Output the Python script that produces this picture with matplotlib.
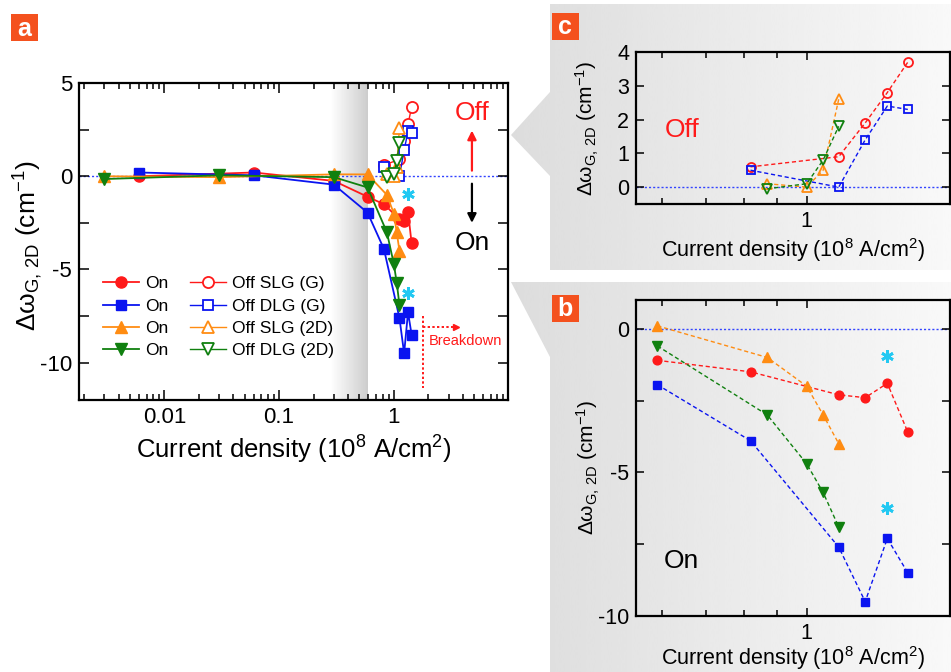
import numpy as np
import matplotlib
matplotlib.use('Agg')
import matplotlib.pyplot as plt
from matplotlib.patches import Polygon, Rectangle
from matplotlib.ticker import FixedLocator, LogLocator, NullFormatter, FuncFormatter

plt.rcParams['font.family'] = ['Liberation Sans', 'DejaVu Sans']
plt.rcParams['mathtext.fontset'] = 'custom'
plt.rcParams['mathtext.rm'] = 'Liberation Sans'
plt.rcParams['mathtext.it'] = 'Liberation Sans:italic'
plt.rcParams['mathtext.bf'] = 'Liberation Sans:bold'
plt.rcParams['axes.unicode_minus'] = False

# ---------------- data ----------------
# "On" (during current flow) Raman shifts, cm^-1
x_on_g = [0.006, 0.06, 0.3, 0.59, 0.82, 1.12, 1.23, 1.33, 1.43]
on_slg_g = [0.0, 0.2, -0.25, -1.1, -1.5, -2.3, -2.4, -1.9, -3.6]
on_dlg_g = [0.2, 0.05, -0.45, -1.95, -3.9, -7.6, -9.5, -7.3, -8.5]
x_on_2d = [0.003, 0.03, 0.3, 0.59, 0.87, 1.0, 1.06, 1.12]
on_slg_2d = [0.0, -0.05, 0.1, 0.1, -1.0, -2.0, -3.0, -4.0]
on_dlg_2d = [-0.15, 0.05, -0.05, -0.6, -3.0, -4.7, -5.7, -6.9]

# "Off" (after current) Raman shifts
x_off_g = [0.82, 1.12, 1.23, 1.33, 1.43]
off_slg_g = [0.6, 0.9, 1.9, 2.8, 3.7]
off_dlg_g = [0.5, 0.0, 1.4, 2.4, 2.3]
x_off_2d = [0.87, 1.0, 1.06, 1.12]
off_slg_2d = [0.1, 0.0, 0.5, 2.6]
off_dlg_2d = [-0.05, 0.1, 0.8, 1.8]

# asterisk marks
star_x = [1.33, 1.33]
star_y = [-0.95, -6.25]

legend_on = ['On', 'On', 'On', 'On']
legend_off = ['Off SLG (G)', 'Off DLG (G)', 'Off SLG (2D)', 'Off DLG (2D)']

# ---------------- style ----------------
RED = '#ff1a1a'
BLUE = '#0a14f0'
ORANGE = '#ff8c12'
GREEN = '#10800f'
CYAN = '#22c8f2'
LABEL_BOX = '#f4511e'

W, H = 951, 672
fig = plt.figure(figsize=(W / 100, H / 100), dpi=100)
fig.patch.set_facecolor('white')


def rect(l, t, r, b):
    return [l / W, 1 - b / H, (r - l) / W, (b - t) / H]


# background panels (pixel coordinates)
bg = fig.add_axes([0, 0, 1, 1], zorder=-10)
bg.set_xlim(0, W)
bg.set_ylim(H, 0)
bg.axis('off')
grad = np.linspace(0.865, 0.975, 256).reshape(1, -1)
for pts in ([(550, 4), (951, 4), (951, 270), (550, 270), (550, 176), (511, 135), (550, 92)],
            [(511, 282), (951, 282), (951, 672), (550, 672), (550, 357)]):
    poly = Polygon(pts, closed=True, facecolor='none', edgecolor='none')
    bg.add_patch(poly)
    im = bg.imshow(grad, cmap='gray', vmin=0, vmax=1, aspect='auto',
                   extent=(511, 951, 672, 0), interpolation='bicubic')
    im.set_clip_path(poly)

# panel label boxes
for (l, t, s) in [(11, 14, 'a'), (552, 13, 'c'), (552, 295, 'b')]:
    bg.add_patch(Rectangle((l, t), 26.5, 27, facecolor=LABEL_BOX, edgecolor='none'))
    bg.text(l + 13.25, t + 14.5, s, color='white', fontsize=18, fontweight='bold',
            ha='center', va='center')

fmt = FuncFormatter(lambda v, p: '%g' % v)


def style_axes(ax, lw=1.5, maj=7, mino=4, fs=16):
    for s in ax.spines.values():
        s.set_linewidth(lw)
    ax.tick_params(which='both', direction='in', top=True, right=True, width=1.1)
    ax.tick_params(which='major', length=maj, labelsize=fs, pad=5)
    ax.tick_params(which='minor', length=mino)


# ---------------- panel a ----------------
axA = fig.add_axes(rect(79, 83, 508, 400))
axA.set_xscale('log')
axA.set_xlim(0.0018, 9.9)
axA.set_ylim(-12, 5)

xs = np.logspace(np.log10(0.28), np.log10(0.6), 61)
for i in range(60):
    lev = 1 - 0.20 * (i + 0.5) / 60
    axA.axvspan(xs[i], xs[i + 1], color=str(lev), lw=0, zorder=0)

axA.axhline(0, color='#3344ff', ls=(0, (1.5, 1.5)), lw=1.0, zorder=1)

h_on = []
h_on.append(axA.plot(x_on_g, on_slg_g, '-', color=RED, marker='o', ms=8, lw=1.3, zorder=3)[0])
h_on.append(axA.plot(x_on_g, on_dlg_g, '-', color=BLUE, marker='s', ms=7.5, lw=1.3, zorder=3)[0])
h_on.append(axA.plot(x_on_2d, on_slg_2d, '-', color=ORANGE, marker='^', ms=9, lw=1.3, zorder=3)[0])
h_on.append(axA.plot(x_on_2d, on_dlg_2d, '-', color=GREEN, marker='v', ms=9, lw=1.3, zorder=3)[0])
h_off = []
h_off.append(axA.plot(x_off_g, off_slg_g, '-', color=RED, marker='o', ms=8, mfc='white', mew=1.3, lw=1.0, zorder=4)[0])
h_off.append(axA.plot(x_off_g, off_dlg_g, '-', color=BLUE, marker='s', ms=7.5, mfc='white', mew=1.3, lw=1.0, zorder=4)[0])
h_off.append(axA.plot(x_off_2d, off_slg_2d, '-', color=ORANGE, marker='^', ms=9, mfc='white', mew=1.3, lw=1.0, zorder=4)[0])
h_off.append(axA.plot(x_off_2d, off_dlg_2d, '-', color=GREEN, marker='v', ms=9, mfc='white', mew=1.3, lw=1.0, zorder=4)[0])

axA.plot(star_x, star_y, ls='none', marker=(6, 2, 0), ms=9, mew=2, color=CYAN, zorder=5)

axA.xaxis.set_major_locator(FixedLocator([0.001, 0.01, 0.1, 1, 10]))
axA.xaxis.set_major_formatter(fmt)
axA.xaxis.set_minor_locator(LogLocator(base=10, subs=np.arange(2, 10), numticks=50))
axA.xaxis.set_minor_formatter(NullFormatter())
axA.yaxis.set_major_locator(FixedLocator([-10, -5, 0, 5]))
axA.yaxis.set_minor_locator(FixedLocator([-7.5, -2.5, 2.5]))
axA.yaxis.set_major_formatter(fmt)
style_axes(axA, lw=1.6, maj=7, mino=4, fs=16)
axA.tick_params(which='minor', length=7, axis='y')

# Off / On annotations
axA.text(4.8, 3.4, 'Off', color=RED, fontsize=19, ha='center', va='center')
axA.text(4.8, -3.6, 'On', color='black', fontsize=19, ha='center', va='center')
axA.annotate('', xy=(4.8, 2.45), xytext=(4.8, 0.3),
             arrowprops=dict(arrowstyle='-|>', color=RED, lw=1.6, mutation_scale=13, shrinkA=0, shrinkB=0))
axA.annotate('', xy=(4.8, -2.5), xytext=(4.8, -0.4),
             arrowprops=dict(arrowstyle='-|>', color='black', lw=1.6, mutation_scale=13, shrinkA=0, shrinkB=0))

# breakdown marker
axA.plot([1.78, 1.78], [-7.5, -11.35], color=RED, ls=(0, (1.2, 1.2)), lw=1.4, zorder=2)
axA.plot([1.8, 3.45], [-8.07, -8.07], color=RED, ls=(0, (1.2, 1.2)), lw=1.4, zorder=2)
axA.plot([3.5], [-8.07], marker='>', color=RED, ms=5, zorder=2)
axA.text(2.0, -8.85, 'Breakdown', color=RED, fontsize=10.5, ha='left', va='center')

leg = axA.legend(h_on + h_off, legend_on + legend_off, ncol=2, frameon=False,
                 loc='upper left', bbox_to_anchor=(103 / W, 1 - 276 / H),
                 bbox_transform=fig.transFigure, fontsize=12.5, handlelength=2.1,
                 handletextpad=0.35, columnspacing=1.2, labelspacing=0.42,
                 borderpad=0, borderaxespad=0)

fig.text(294 / W, 1 - 450 / H, 'Current density (10$^{8}$ A/cm$^{2}$)', fontsize=18.5,
         ha='center', va='center')
fig.text(28 / W, 1 - 246 / H, 'Δω$_{\\mathrm{G,\\,2D}}$ (cm$^{-1}$)', fontsize=19,
         ha='center', va='center', rotation=90)


# ---------------- panels b & c ----------------
def setup_small(ax):
    ax.set_facecolor('none')
    ax.set_xscale('log')
    ax.set_xlim(0.547, 1.66)
    ax.xaxis.set_major_locator(FixedLocator([1]))
    ax.xaxis.set_major_formatter(fmt)
    ax.xaxis.set_minor_locator(LogLocator(base=10, subs=np.arange(2, 10), numticks=50))
    ax.xaxis.set_minor_formatter(NullFormatter())
    ax.yaxis.set_major_formatter(fmt)
    style_axes(ax, lw=1.6, maj=6, mino=4, fs=15.5)
    ax.axhline(0, color='#3344ff', ls=(0, (1.5, 1.5)), lw=1.0, zorder=1)


DASH = (0, (3, 2))

# panel c (Off)
axC = fig.add_axes(rect(636, 52, 950, 204))
setup_small(axC)
axC.set_ylim(-0.5, 4)
axC.yaxis.set_major_locator(FixedLocator([0, 1, 2, 3, 4]))
axC.plot(x_off_g, off_slg_g, ls=DASH, color=RED, marker='o', ms=6.5, mfc='none', mew=1.3, lw=1.0)
axC.plot(x_off_g, off_dlg_g, ls=DASH, color=BLUE, marker='s', ms=6.3, mfc='none', mew=1.3, lw=1.0)
axC.plot(x_off_2d, off_slg_2d, ls=DASH, color=ORANGE, marker='^', ms=7, mfc='none', mew=1.3, lw=1.0)
axC.plot(x_off_2d, off_dlg_2d, ls=DASH, color=GREEN, marker='v', ms=7, mfc='none', mew=1.3, lw=1.0)
axC.text(0.146, 0.49, 'Off', color=RED, fontsize=19, ha='center', va='center', transform=axC.transAxes)
fig.text(793 / W, 1 - 250 / H, 'Current density (10$^{8}$ A/cm$^{2}$)', fontsize=15.5,
         ha='center', va='center')
fig.text(587 / W, 1 - 128 / H, 'Δω$_{\\mathrm{G,\\,2D}}$ (cm$^{-1}$)', fontsize=15,
         ha='center', va='center', rotation=90)

# panel b (On)
axB = fig.add_axes(rect(636, 300, 950, 616))
setup_small(axB)
axB.set_ylim(-10, 1)
axB.yaxis.set_major_locator(FixedLocator([-10, -5, 0]))
axB.yaxis.set_minor_locator(FixedLocator([-7.5, -2.5]))
axB.tick_params(which='minor', length=6, axis='y')


def sel(xv, yv):
    pairs = [(a, b) for a, b in zip(xv, yv) if a >= 0.5]
    return [p[0] for p in pairs], [p[1] for p in pairs]


axB.plot(*sel(x_on_g, on_slg_g), ls=DASH, color=RED, marker='o', ms=6.3, lw=1.0)
axB.plot(*sel(x_on_g, on_dlg_g), ls=DASH, color=BLUE, marker='s', ms=6, lw=1.0)
axB.plot(*sel(x_on_2d, on_slg_2d), ls=DASH, color=ORANGE, marker='^', ms=7.5, lw=1.0)
axB.plot(*sel(x_on_2d, on_dlg_2d), ls=DASH, color=GREEN, marker='v', ms=7.5, lw=1.0)
axB.plot(star_x, star_y, ls='none', marker=(6, 2, 0), ms=9, mew=2, color=CYAN, zorder=5)
axB.text(0.146, 0.174, 'On', color='black', fontsize=19, ha='center', va='center', transform=axB.transAxes)
fig.text(793 / W, 1 - 658 / H, 'Current density (10$^{8}$ A/cm$^{2}$)', fontsize=15.5,
         ha='center', va='center')
fig.text(588 / W, 1 - 467 / H, 'Δω$_{\\mathrm{G,\\,2D}}$ (cm$^{-1}$)', fontsize=15,
         ha='center', va='center', rotation=90)

fig.savefig('out.png', dpi=100, facecolor='white')
